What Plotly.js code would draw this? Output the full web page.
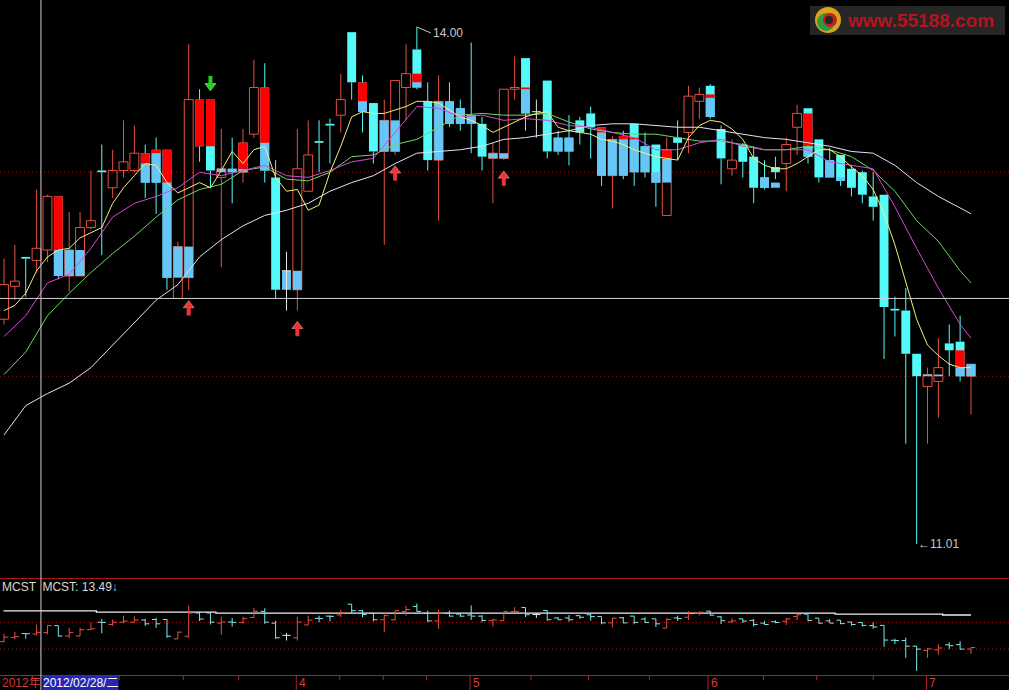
<!DOCTYPE html>
<html><head><meta charset="utf-8">
<script src="https://cdn.plot.ly/plotly-3.0.1.min.js"></script>
<style>html,body{margin:0;padding:0;background:#000;overflow:hidden}#chart{width:1009px;height:690px}</style>
</head><body><div id="chart"></div>
<script>
// ---------- data ----------
const open = [12.31,12.50,12.67,12.65,12.71,13.02,12.56,12.56,12.84,13.17, 13.07,13.17,13.17,13.27,13.29,13.29,12.43,12.55,13.58,13.58, 13.13,13.18,13.16,13.38,13.65,13.13,12.59,12.48,13.05,13.34, 13.44,13.49,13.97,13.68,13.56,13.28,13.28,13.65,13.87,13.57, 13.23,13.57,13.53,13.49,13.44,13.24,13.24,13.64,13.82,13.51, 13.69,13.36,13.36,13.46,13.50,13.42,13.14,13.37,13.44,13.31, 13.32,12.91,13.36,13.39,13.57,13.66,13.41,13.18,13.32,13.25, 13.13,13.19,13.21,13.42,13.53,13.35,13.23,13.26,13.18,13.16, 13.02,13.03,12.37,12.36,12.11,11.92,11.95,12.17,12.18,11.98];
const high = [12.66,12.74,12.67,13.06,13.03,13.02,12.93,12.93,13.17,13.32, 13.29,13.46,13.43,13.32,13.36,13.29,12.76,13.90,13.64,13.58, 13.41,13.36,13.41,13.81,13.79,13.23,12.70,13.41,13.46,13.46, 13.47,13.73,13.97,13.72,13.56,13.58,13.69,13.90,14.00,13.68, 13.72,13.68,13.58,13.91,13.48,13.33,13.64,13.83,13.82,13.58, 13.69,13.40,13.49,13.48,13.54,13.42,13.37,13.40,13.44,13.39, 13.32,13.36,13.46,13.66,13.65,13.67,13.43,13.35,13.33,13.31, 13.23,13.25,13.36,13.55,13.53,13.35,13.30,13.26,13.20,13.17, 13.16,13.03,12.44,12.49,12.11,12.03,12.20,12.28,12.33,12.05];
const low = [12.28,12.42,12.44,12.58,12.64,12.54,12.47,12.56,12.83,12.68, 13.01,13.13,13.16,13.01,12.92,12.48,12.43,12.48,13.22,13.07, 12.61,12.98,13.10,13.36,13.10,12.43,12.36,12.36,13.05,13.16, 13.21,13.39,13.58,13.39,13.21,12.74,13.26,13.46,13.64,13.17, 12.88,13.42,13.40,13.27,13.17,12.98,13.23,13.58,13.40,13.36, 13.24,13.26,13.20,13.32,13.24,13.08,12.95,13.12,13.08,13.13, 12.96,12.91,13.23,13.27,13.47,13.47,13.09,13.14,13.13,12.98, 13.06,13.12,13.05,13.26,13.21,13.10,13.13,13.08,13.02,12.98, 12.88,12.08,12.21,11.59,11.01,11.59,11.74,11.98,11.95,11.76];
const close = [12.51,12.53,12.66,12.72,13.02,12.56,12.71,12.84,12.88,13.16, 13.17,13.22,13.27,13.10,13.10,12.55,12.73,13.58,13.31,13.17, 13.18,13.16,13.33,13.65,13.17,12.48,12.59,13.18,13.26,13.33, 13.43,13.58,13.68,13.51,13.28,13.46,13.69,13.73,13.65,13.23, 13.57,13.44,13.44,13.44,13.25,13.27,13.64,13.65,13.50,13.51, 13.28,13.28,13.28,13.39,13.42,13.14,13.35,13.14,13.16,13.16, 13.10,13.29,13.33,13.60,13.61,13.48,13.24,13.23,13.22,13.07, 13.07,13.16,13.32,13.50,13.25,13.13,13.13,13.11,13.07,13.03, 12.96,12.38,12.36,12.11,11.98,11.99,12.03,12.13,11.98,12.05];

// red filled stick overlay
const redIdx = [5,13,14,15,18,19,22,24,33,38,48,55,57,58,61,65,74,88];
const redHi  = [13.02,13.27,13.29,13.29,13.58,13.58,13.33,13.65,13.68,13.73,13.65,13.42,13.37,13.36,13.29,13.61,13.50,12.13];
const redLo  = [12.71,13.21,13.27,13.10,13.31,13.31,13.18,13.33,13.57,13.68,13.64,13.39,13.35,13.35,13.24,13.59,13.31,12.03];
// sky-blue stick overlay
const skyIdx = [5,6,7,13,14,15,16,17,20,21,22,24,26,27,33,35,36,38,40,41,42,43,45,46,48,51,52,55,56,57,58,59,60,61,65,70,71,74,76,77,85,86,88,89];
const skyHi  = [12.71,12.71,12.71,13.21,13.27,13.10,12.73,12.73,13.18,13.18,13.18,13.33,12.59,12.59,13.57,13.46,13.46,13.68,13.57,13.57,13.53,13.49,13.27,13.27,13.64,13.36,13.36,13.39,13.35,13.35,13.35,13.31,13.16,13.24,13.59,13.13,13.10,13.31,13.23,13.13,11.99,11.99,12.03,12.05];
const skyLo  = [12.56,12.56,12.56,13.10,13.10,12.55,12.55,12.55,13.16,13.16,13.16,13.17,12.48,12.48,13.51,13.28,13.28,13.65,13.23,13.44,13.44,13.44,13.24,13.24,13.50,13.28,13.28,13.14,13.14,13.14,13.16,13.16,13.10,13.10,13.48,13.07,13.07,13.25,13.13,13.11,11.98,11.98,11.98,11.98];

// moving averages
const ma5 = [12.36,12.39,12.46,12.59,12.67,12.71,12.72,12.78,12.81,12.84, 12.98,13.07,13.14,13.21,13.20,13.10,13.04,13.07,13.10,13.07, 13.17,13.28,13.21,13.29,13.31,13.13,13.05,13.06,12.94,12.97, 13.16,13.31,13.48,13.51,13.50,13.50,13.52,13.54,13.57,13.57, 13.56,13.52,13.48,13.46,13.43,13.39,13.42,13.45,13.48,13.50, 13.51,13.42,13.40,13.39,13.38,13.35,13.34,13.32,13.29,13.27, 13.25,13.24,13.23,13.36,13.43,13.46,13.45,13.41,13.35,13.24, 13.20,13.18,13.18,13.21,13.25,13.29,13.29,13.25,13.19,13.14, 13.06,12.92,12.74,12.53,12.31,12.16,12.10,12.05,12.03,12.03];
const maIdx = [0,2,4,6,8,10,12,14,16,18,20,22,24,26,28,30,32,34,36,38,40,42,44,46,48,50,52,54,56,58,60,62,64,66,68,70,72,74,76,78,80,82,84,86,88,89];
const ma10 = [12.21,12.33,12.52,12.57,12.72,12.90,12.98,13.02,13.07,13.16, 13.14,13.17,13.20,13.14,13.13,13.17,13.22,13.24,13.39,13.54, 13.53,13.48,13.49,13.46,13.47,13.46,13.43,13.42,13.39,13.36, 13.29,13.29,13.33,13.35,13.31,13.29,13.29,13.29,13.22,13.20, 13.18,12.96,12.72,12.49,12.28,12.20];
const ma20 = [11.99,12.12,12.33,12.46,12.58,12.69,12.79,12.90,13.00,13.06, 13.09,13.17,13.19,13.12,13.11,13.16,13.25,13.26,13.32,13.35, 13.42,13.49,13.50,13.49,13.49,13.50,13.45,13.41,13.39,13.38, 13.38,13.36,13.34,13.34,13.32,13.29,13.29,13.31,13.29,13.25, 13.17,13.05,12.88,12.76,12.59,12.52];
const ma60 = [11.64,11.81,11.88,11.94,12.03,12.16,12.29,12.42,12.51,12.67, 12.77,12.85,12.91,12.94,12.98,13.05,13.10,13.14,13.21,13.27, 13.28,13.29,13.31,13.35,13.36,13.38,13.40,13.43,13.44,13.44, 13.43,13.42,13.42,13.40,13.38,13.36,13.35,13.33,13.31,13.28, 13.27,13.20,13.10,13.02,12.95,12.92];

// MCST (lower panel)
const mcstIdx = [-0.05,8.5,19.5,76.5,86.4,89.0];
const mcstVal = [13.67,13.62,13.57,13.53,13.49,13.49];

// signals
const buyIdx = [17,27,36,46];
const sellIdx = [19];

// axis ticks
const monthTickIdx = [26.9,42.9,64.8,84.9];
const monthLabels = ['4','5','6','7'];
const minorTickIdx = [10.6,16.5,21.6,30.9,34.9,38.9,48.5,53.8,59.4,69.9,74.8,80.0];
const cursorIdx = 3.4, cursorPrice = 12.43;
const cursorDate = '2012/02/28/二';
const gridPrices = [13.16, 11.98];
const hiLabel = {idx:38, price:14.00, text:'14.00'};
const loLabel = {idx:84, price:11.01, text:'←11.01'};

// ---------- drawing ----------
const W=1009, H=690;
const Y1=[10.819,14.156], Y2=[10.833,15.084];
const pp = (Y1[1]-Y1[0])/577;   // price per pixel (main)
const N = close.length;
const xs = Array.from({length:N},(_,i)=>i);
const BW = 0.82;
const C_UP='#E4503E', C_DN='#54FAFA', C_SKY='#66C6F8', C_RED='#FF0000', C_FLAT='#E6E6E6';
const dir = xs.map(i=> close[i]>open[i]?1:(close[i]<open[i]?-1:0));
const upI=xs.filter(i=>dir[i]===1), dnI=xs.filter(i=>dir[i]===-1), flI=xs.filter(i=>dir[i]===0);

const traces=[];
traces.push({type:'bar',x:upI,base:upI.map(i=>open[i]),y:upI.map(i=>close[i]-open[i]),width:BW,
  marker:{color:'rgba(0,0,0,0)',line:{color:C_UP,width:1}}});
traces.push({type:'bar',x:dnI,base:dnI.map(i=>close[i]),y:dnI.map(i=>Math.max(open[i]-close[i],0.006)),width:BW,
  marker:{color:C_DN,line:{width:0}}});
traces.push({type:'bar',x:skyIdx,base:skyLo,y:skyHi.map((h,k)=>Math.max(h-skyLo[k],0.006)),width:BW,
  marker:{color:C_SKY,line:{width:0}}});
traces.push({type:'bar',x:redIdx,base:redLo,y:redHi.map((h,k)=>Math.max(h-redLo[k],0.006)),width:BW,
  marker:{color:C_RED,line:{width:0}}});

function wicks(idx,color,withBody){
  const x=[],y=[];
  idx.forEach(i=>{
    const top=Math.max(open[i],close[i]), bot=Math.min(open[i],close[i]);
    if(high[i]>top){x.push(i,i,null);y.push(top,high[i],null);}
    if(low[i]<bot){x.push(i,i,null);y.push(bot,low[i],null);}
    if(withBody){x.push(i-BW/2,i+BW/2,null);y.push(open[i],open[i],null);}
  });
  return {type:'scatter',mode:'lines',x,y,line:{color,width:1},connectgaps:false};
}
traces.push(wicks(upI,C_UP,false));
traces.push(wicks(dnI,C_DN,false));
traces.push(wicks(flI,C_FLAT,true));

const maLine=(x,y,c)=>({type:'scatter',mode:'lines',x,y,line:{color:c,width:1}});
traces.push(maLine(maIdx,ma60,'#E6E2F4'));
traces.push(maLine(maIdx,ma20,'#6CD860'));
traces.push(maLine(maIdx,ma10,'#D848D8'));
traces.push(maLine(xs,ma5,'#F4F07A'));

// signal arrows (tip placed a few pixels off the low / high)
function arrowTraces(idx, up, color, edge){
  const tip = idx.map(i => up ? low[i]-11*pp : high[i]+9*pp);
  const s = up ? 1 : -1;
  return [
    {type:'scatter',mode:'markers',x:idx,y:tip.map(t=>t - s*4.6*pp),
     marker:{symbol: up?'triangle-up':'triangle-down',size:9.5,color,line:{color:edge,width:0.6}}},
    {type:'scatter',mode:'markers',x:idx,y:tip.map(t=>t - s*10.5*pp),
     marker:{symbol:'line-ns',size:6,line:{color,width:4}}}
  ];
}
arrowTraces(buyIdx,true,'#EC3434','#FF9A9A').forEach(t=>traces.push(t));
arrowTraces(sellIdx,false,'#22D022','#90FF90').forEach(t=>traces.push(t));

// lower panel: american lines
function amer(idx,color){
  const x=[],y=[],T=0.38;
  idx.forEach(i=>{
    x.push(i,i,null,i-T,i,null,i,i+T,null);
    y.push(low[i],high[i],null,open[i],open[i],null,close[i],close[i],null);
  });
  return {type:'scatter',mode:'lines',x,y,yaxis:'y2',line:{color,width:1},connectgaps:false};
}
traces.push({type:'scatter',mode:'lines',x:mcstIdx,y:mcstVal,yaxis:'y2',line:{color:'#F0F0F0',width:1.3,shape:'hv'}});
traces.push(amer(upI,C_UP));
traces.push(amer(dnI,'#7EEAEA'));
traces.push(amer(flI,C_FLAT));

const px2paperY = p => 1 - p/H;
const shapes=[];
gridPrices.forEach(g=>{
  shapes.push({type:'line',xref:'paper',x0:0,x1:1,yref:'y',y0:g,y1:g,line:{color:'#A01010',width:1,dash:'1px,3px'},layer:'below'});
  shapes.push({type:'line',xref:'paper',x0:0,x1:1,yref:'y2',y0:g,y1:g,line:{color:'#A01010',width:1,dash:'1px,3px'},layer:'below'});
});
shapes.push({type:'line',xref:'paper',yref:'paper',x0:0,x1:1,y0:px2paperY(578.5),y1:px2paperY(578.5),line:{color:'#A81818',width:1}});
shapes.push({type:'line',xref:'paper',yref:'paper',x0:0,x1:1,y0:px2paperY(675.5),y1:px2paperY(675.5),line:{color:'#B82020',width:1}});
monthTickIdx.forEach(t=>shapes.push({type:'line',xref:'x',yref:'paper',x0:t,x1:t,y0:0,y1:px2paperY(675.5),line:{color:'#B82020',width:1}}));
minorTickIdx.forEach(t=>shapes.push({type:'line',xref:'x',yref:'paper',x0:t,x1:t,y0:px2paperY(680),y1:px2paperY(675.5),line:{color:'#B82020',width:1}}));
shapes.push({type:'line',xref:'x',yref:'paper',x0:cursorIdx,x1:cursorIdx,y0:0,y1:1,line:{color:'#D0D0D0',width:1}});
shapes.push({type:'line',xref:'paper',yref:'y',x0:0,x1:1,y0:cursorPrice,y1:cursorPrice,line:{color:'#D0D0D0',width:1}});
// watermark
shapes.push({type:'rect',xref:'paper',yref:'paper',x0:810/W,x1:1005/W,y0:px2paperY(35),y1:px2paperY(6),fillcolor:'#262626',line:{width:0}});
shapes.push({type:'circle',xref:'paper',yref:'paper',x0:815/W,x1:841/W,y0:px2paperY(33),y1:px2paperY(7),fillcolor:'#D8A41C',line:{width:0}});
shapes.push({type:'circle',xref:'paper',yref:'paper',x0:817/W,x1:835/W,y0:px2paperY(31),y1:px2paperY(13),fillcolor:'#2E9A46',line:{width:0}});
shapes.push({type:'circle',xref:'paper',yref:'paper',x0:823/W,x1:837/W,y0:px2paperY(27),y1:px2paperY(13),fillcolor:'#C42020',line:{width:0}});
shapes.push({type:'circle',xref:'paper',yref:'paper',x0:825/W,x1:833/W,y0:px2paperY(24),y1:px2paperY(16),fillcolor:'#262626',line:{width:0}});

const F='Liberation Sans, Noto Sans CJK SC, sans-serif';
const ann=[];
ann.push({x:hiLabel.idx,y:hiLabel.price,xref:'x',yref:'y',text:hiLabel.text,showarrow:true,arrowhead:0,arrowwidth:1,arrowcolor:'#C8C8C8',ax:14,ay:6,xanchor:'left',yanchor:'middle',font:{family:F,size:12,color:'#C8C8C8'}});
ann.push({x:loLabel.idx,y:loLabel.price,xref:'x',yref:'y',text:loLabel.text,showarrow:false,xanchor:'left',yanchor:'middle',xshift:-1,font:{family:F,size:12,color:'#C8C8C8'}});
ann.push({xref:'paper',yref:'paper',x:845/W,y:px2paperY(20),text:'<b>www.55188.com</b>',showarrow:false,xanchor:'left',yanchor:'middle',font:{family:'Liberation Sans, sans-serif',size:19,color:'#B4141E'}});
ann.push({xref:'paper',yref:'paper',x:0,y:px2paperY(587),text:'MCST  MCST: 13.49<span style="color:#40D8F0">↓</span>',showarrow:false,xanchor:'left',yanchor:'middle',font:{family:F,size:12,color:'#D8D8D8'}});
ann.push({xref:'paper',yref:'paper',x:0,y:px2paperY(683),text:'2012年',showarrow:false,xanchor:'left',yanchor:'middle',font:{family:F,size:12,color:'#D23C3C'}});
ann.push({xref:'paper',yref:'paper',x:42/W,y:px2paperY(683),text:cursorDate,showarrow:false,xanchor:'left',yanchor:'middle',bgcolor:'#2626B2',borderpad:0,font:{family:F,size:12,color:'#FFFFFF'}});
monthTickIdx.forEach((t,k)=>ann.push({x:t,xref:'x',yref:'paper',y:px2paperY(683),text:monthLabels[k],showarrow:false,xanchor:'left',yanchor:'middle',xshift:1,font:{family:F,size:12,color:'#D23C3C'}}));

const layout={width:W,height:H,margin:{l:0,r:0,t:0,b:0,pad:0},paper_bgcolor:'#000',plot_bgcolor:'#000',
  showlegend:false,barmode:'overlay',hovermode:false,
  xaxis:{range:[-0.368,92.5],visible:false,fixedrange:true},
  yaxis:{domain:[1-577/H,1],range:Y1,visible:false,fixedrange:true},
  yaxis2:{domain:[15/H,111/H],range:Y2,visible:false,anchor:'x',fixedrange:true},
  shapes,annotations:ann};
Plotly.newPlot('chart',traces,layout,{staticPlot:true,displayModeBar:false});
</script></body></html>
